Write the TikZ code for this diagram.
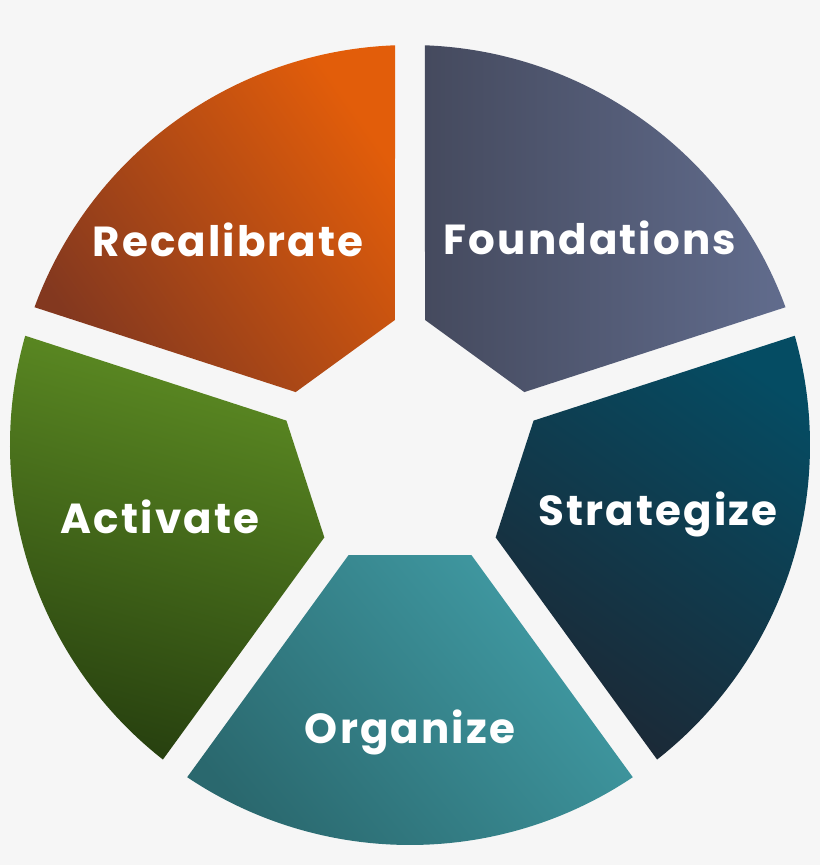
\documentclass[tikz,border=0pt]{standalone}
\usepackage{fontspec}
\setmainfont{Poppins}
\newfontfamily\segfont{Poppins}[LetterSpace=5]

\definecolor{bgGray}{HTML}{F6F6F6}
\definecolor{recalLight}{HTML}{E25D0A}
\definecolor{recalDark}{HTML}{83381F}
\definecolor{foundLight}{HTML}{616C8D}
\definecolor{foundDark}{HTML}{454A5E}
\definecolor{stratLight}{HTML}{054C63}
\definecolor{stratDark}{HTML}{1C2835}
\definecolor{orgLight}{HTML}{419CA5}
\definecolor{orgDark}{HTML}{2A686E}
\definecolor{actLight}{HTML}{5D8C23}
\definecolor{actDark}{HTML}{27400F}

\begin{document}
\begin{tikzpicture}[x=1pt, y=1pt,
    segtext/.style={text=white, anchor=base, font=\segfont\bfseries\fontsize{42}{42}\selectfont}]
            \useasboundingbox (-410,-420) rectangle (410,445);
            \fill[bgGray] (-410,-420) rectangle (410,445);

            % ring pieces: centre angle / top colour / bottom colour / shading angle
            \foreach \a/\ct/\cb/\s in {54/foundLight/foundDark/-90,
                                       -18/stratLight/stratDark/-35,
                                       -90/orgLight/orgDark/-50,
                                       198/actLight/actDark/-15,
                                       126/recalLight/recalDark/-55} {
                \shade[top color=\ct, bottom color=\cb, shading angle=\s]
                    (\a-29.16:125.97) -- (\a-33.85:400)
                    arc[start angle=\a-33.85, end angle=\a+33.85, radius=400]
                    -- (\a+29.16:125.97) -- cycle;
            }

            \node[segtext] (recal) at (-182,188) {Recalibrate};
            \node[segtext] (found) at (180,190) {Foundations};
            \node[segtext] (strat) at (248,-80) {Strategize};
            \node[segtext] (org) at (0,-298) {Organize};
            \node[segtext] (act) at (-250,-88) {Activate};

            \end{tikzpicture}
\end{document}
